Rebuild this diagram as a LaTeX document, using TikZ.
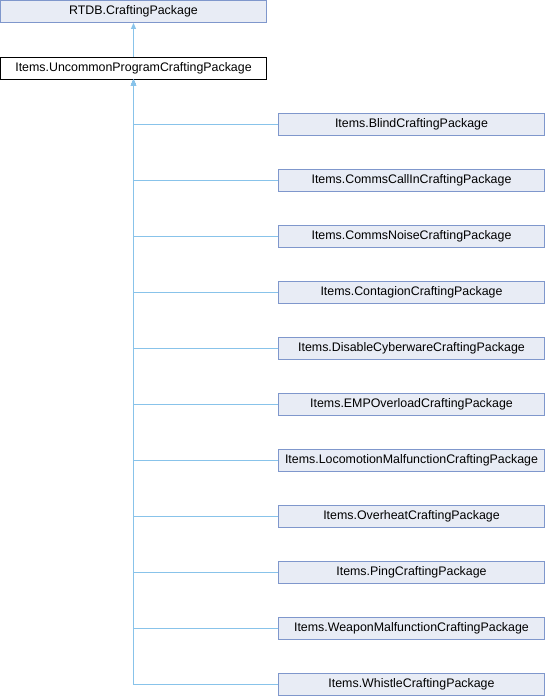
\documentclass[tikz,border=0pt]{standalone}
\usepackage{fontspec}
\setmainfont{Liberation Sans}
\usetikzlibrary{arrows.meta}
\definecolor{nodefill}{HTML}{E8ECF5}
\definecolor{nodeborder}{HTML}{7F97CC}
\definecolor{edgecol}{HTML}{88C3EA}
\tikzset{
  x=1pt,y=1pt,
  cls/.style={draw=nodeborder,fill=nodefill,line width=0.9pt,minimum width=266pt,minimum height=22pt,inner sep=0pt,font=\fontsize{12.4}{14}\selectfont},
  cur/.style={cls,draw=black,fill=white},
  edge/.style={draw=edgecol,line width=0.9pt,-{Triangle[width=5pt,length=6pt,fill=edgecol]}},
}
\begin{document}
\begin{tikzpicture}
\useasboundingbox (0,0) rectangle (546,-696);
\node[cls] (base) at (133.5,-11.5) {RTDB.CraftingPackage};
\node[cur] (mid) at (133.5,-68) {Items.UncommonProgramCraftingPackage};
\node[cls] (c1) at (411.5,-124) {Items.BlindCraftingPackage};
\node[cls] (c2) at (411.5,-180) {Items.CommsCallInCraftingPackage};
\node[cls] (c3) at (411.5,-236) {Items.CommsNoiseCraftingPackage};
\node[cls] (c4) at (411.5,-292) {Items.ContagionCraftingPackage};
\node[cls] (c5) at (411.5,-348) {Items.DisableCyberwareCraftingPackage};
\node[cls] (c6) at (411.5,-404) {Items.EMPOverloadCraftingPackage};
\node[cls] (c7) at (411.5,-460) {Items.LocomotionMalfunctionCraftingPackage};
\node[cls] (c8) at (411.5,-516) {Items.OverheatCraftingPackage};
\node[cls] (c9) at (411.5,-572) {Items.PingCraftingPackage};
\node[cls] (c10) at (411.5,-628) {Items.WeaponMalfunctionCraftingPackage};
\node[cls] (c11) at (411.5,-684) {Items.WhistleCraftingPackage};
\draw[edge] (mid.north) -- (base.south);
\foreach \c in {c1,c2,c3,c4,c5,c6,c7,c8,c9,c10,c11}{
  \draw[edge] (\c.west) -| (mid.south);
}
\end{tikzpicture}
\end{document}
